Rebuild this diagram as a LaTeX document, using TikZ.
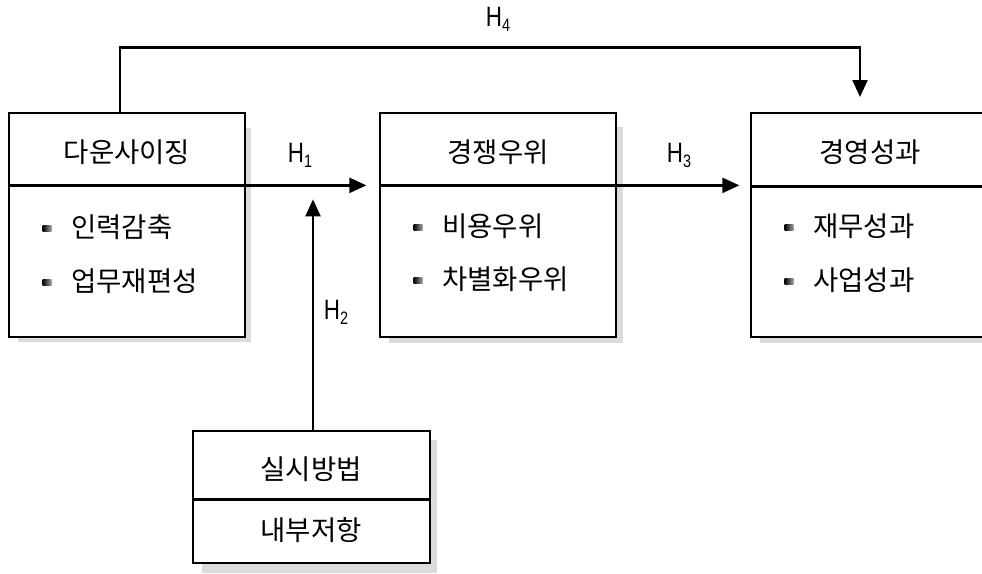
\documentclass[tikz,border=0pt]{standalone}
\usepackage{fontspec}
\setmainfont{Liberation Sans}
\newfontfamily\krfont{Noto Sans CJK KR}
\usetikzlibrary{arrows.meta}
\definecolor{shadowc}{HTML}{D9DCDA}
\tikzset{
  boxnode/.style={draw=black, fill=white, line width=1.3pt, inner sep=0pt},
  divline/.style={line width=2.4pt, black},
  arr/.style={line width=2.3pt, -{Triangle[length=17pt,width=15pt]}},
  krtext/.style={font=\krfont\fontsize{27.5}{30}\selectfont, inner sep=0pt},
  itemtext/.style={krtext, anchor=west},
  bulletnode/.style={minimum width=9pt, minimum height=6pt, inner sep=0pt, left color=black, right color=black!35, draw=none},
  hlabel/.style={font=\fontsize{28}{30}\selectfont, inner sep=0pt, xscale=0.8}
}
\newcommand{\hsub}[1]{H\raisebox{-5pt}{\fontsize{18}{18}\selectfont #1}}
\begin{document}
\begin{tikzpicture}[x=1pt,y=-1pt]
\clip (0,0) rectangle (982,573);
\useasboundingbox (0,0) rectangle (982,573);
% shadows
\fill[shadowc] (18,128) rectangle (251,342);
\fill[shadowc] (389,127) rectangle (623,343);
\fill[shadowc] (760,127) rectangle (1000,343);
\fill[shadowc] (202,440) rectangle (437,573);
% boxes
\node[boxnode, minimum width=236pt, minimum height=224pt] (b1) at (127,225) {};
\node[boxnode, minimum width=236pt, minimum height=224pt] (b2) at (498,225) {};
\node[boxnode, minimum width=240pt, minimum height=224pt] (b3) at (871,225) {};
\node[boxnode, minimum width=237pt, minimum height=132pt] (b4) at (311.5,497) {};
% dividers
\draw[divline] ([yshift=-73pt]b1.north west) -- ([yshift=-73pt]b1.north east);
\draw[divline] ([yshift=-73pt]b2.north west) -- ([yshift=-73pt]b2.north east);
\draw[divline] ([yshift=-74pt]b3.north west) -- ([yshift=-74pt]b3.north east);
\draw[divline] ([yshift=-69pt]b4.north west) -- ([yshift=-69pt]b4.north east);
% titles
\node[krtext] (t1) at (127,152) {다운사이징};
\node[krtext] (t2) at (498,152) {경쟁우위};
\node[krtext] (t3) at (870,152) {경영성과};
\node[krtext] (t4) at (311,469) {실시방법};
\node[krtext] (t5) at (311,530) {내부저항};
% items
\node[bulletnode] (p11) at (47,228) {};
\node[itemtext] (i11) at (71,227) {인력감축};
\node[bulletnode] (p12) at (47,282) {};
\node[itemtext] (i12) at (71,281) {업무재편성};
\node[bulletnode] (p21) at (418,227) {};
\node[itemtext] (i21) at (442,226) {비용우위};
\node[bulletnode] (p22) at (418,280) {};
\node[itemtext] (i22) at (442,279) {차별화우위};
\node[bulletnode] (p31) at (789,227) {};
\node[itemtext] (i31) at (813,226) {재무성과};
\node[bulletnode] (p32) at (789,281) {};
\node[itemtext] (i32) at (813,280) {사업성과};
% connectors
\coordinate (h4end) at (860,97);
\draw[arr] ([xshift=-7pt]b1.north) -- ++(0,-65) -| (h4end);
\draw[arr] ([yshift=-73pt]b1.north east) -- ([xshift=-13pt,yshift=-73pt]b2.north west);
\draw[arr] ([yshift=-73pt]b2.north east) -- ([xshift=-11pt,yshift=-73pt]b3.north west);
\draw[arr] ([xshift=1.5pt]b4.north) -- ++(0,-231);
% labels
\node[hlabel] (l4) at (498,19) {\hsub{4}};
\node[hlabel] (l1) at (300,155) {\hsub{1}};
\node[hlabel] (l3) at (679,155) {\hsub{3}};
\node[hlabel] (l2) at (336,312) {\hsub{2}};
\end{tikzpicture}
\end{document}
